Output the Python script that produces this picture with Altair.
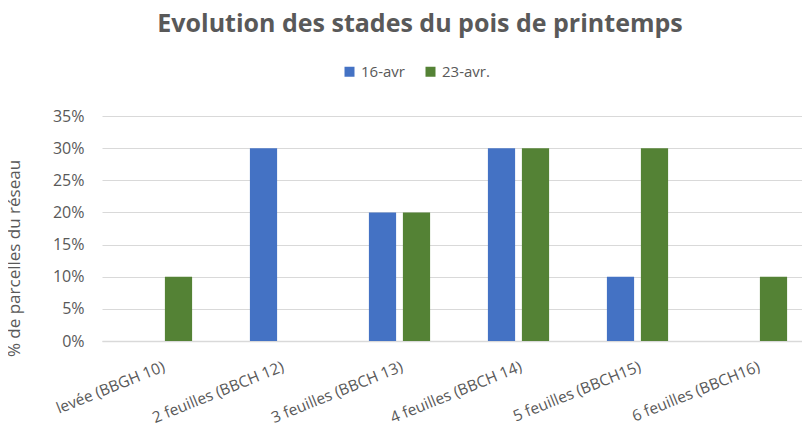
import altair as alt
import pandas as pd

categories = ["levée (BBGH 10)", "2 feuilles (BBCH 12)", "3 feuilles (BBCH 13)",
              "4 feuilles (BBCH 14)", "5 feuilles (BBCH15)", "6 feuilles (BBCH16)"]
series = ["16-avr", "23-avr."]
values_16avr = [0.0, 0.30, 0.20, 0.30, 0.10, 0.0]
values_23avr = [0.10, 0.0, 0.20, 0.30, 0.30, 0.10]
colors = ["#4472C4", "#548235"]

rows = []
for c, a, b in zip(categories, values_16avr, values_23avr):
    rows.append({"stade": c, "date": series[0], "val": a})
    rows.append({"stade": c, "date": series[1], "val": b})
df = pd.DataFrame(rows)

FONT = "Open Sans"
GREY = "#595959"

chart = alt.Chart(df).mark_bar().encode(
    x=alt.X("stade:N", sort=categories,
            scale=alt.Scale(range=[0, 714], paddingInner=0, paddingOuter=0),
            axis=alt.Axis(title=None, labelAngle=338, labelAlign="right", labelBaseline="top",
                          labelPadding=18, labelFontSize=15.5, labelColor=GREY, labelFont=FONT,
                          ticks=False, domainColor="#D9D9D9", domainWidth=1.5, grid=False,
                          labelOverlap=False)),
    xOffset=alt.XOffset("date:N", sort=series,
                        scale=alt.Scale(paddingInner=0.2, paddingOuter=0.85)),
    y=alt.Y("val:Q", scale=alt.Scale(domain=[0, 0.35], nice=False),
            axis=alt.Axis(title="% de parcelles du réseau", format=".0%", values=[0, 0.05, 0.1, 0.15, 0.2, 0.25, 0.3, 0.35],
                          labelFontSize=16, labelColor=GREY, labelFont=FONT, labelPadding=18,
                          ticks=False, domain=False, gridColor="#D9D9D9", gridWidth=1.2,
                          titleFontSize=17, titleFont=FONT, titleColor=GREY, titleFontWeight="normal",
                          titleX=-79, titleY=142, titleAngle=270)),
    color=alt.Color("date:N", sort=series, scale=alt.Scale(domain=series, range=colors),
                    legend=alt.Legend(title=None, orient="none", legendX=240, legendY=-52,
                                      direction="horizontal", symbolType="square", symbolSize=100,
                                      symbolStrokeWidth=0, labelFontSize=15, labelColor=GREY,
                                      labelFont=FONT, columnPadding=18, padding=0)),
).properties(
    width=700, height=225,
    title=alt.TitleParams("Evolution des stades du pois de printemps", fontSize=25,
                          font=FONT, fontWeight="bold", color=GREY, anchor="middle",
                          dx=-32, offset=27),
    autosize=alt.AutoSizeParams(type="none"),
    padding={"left": 94, "top": 108, "right": 0, "bottom": 94},
).configure_view(stroke=None)

chart.save("out.html", embed_options={"renderer": "svg", "actions": False})
